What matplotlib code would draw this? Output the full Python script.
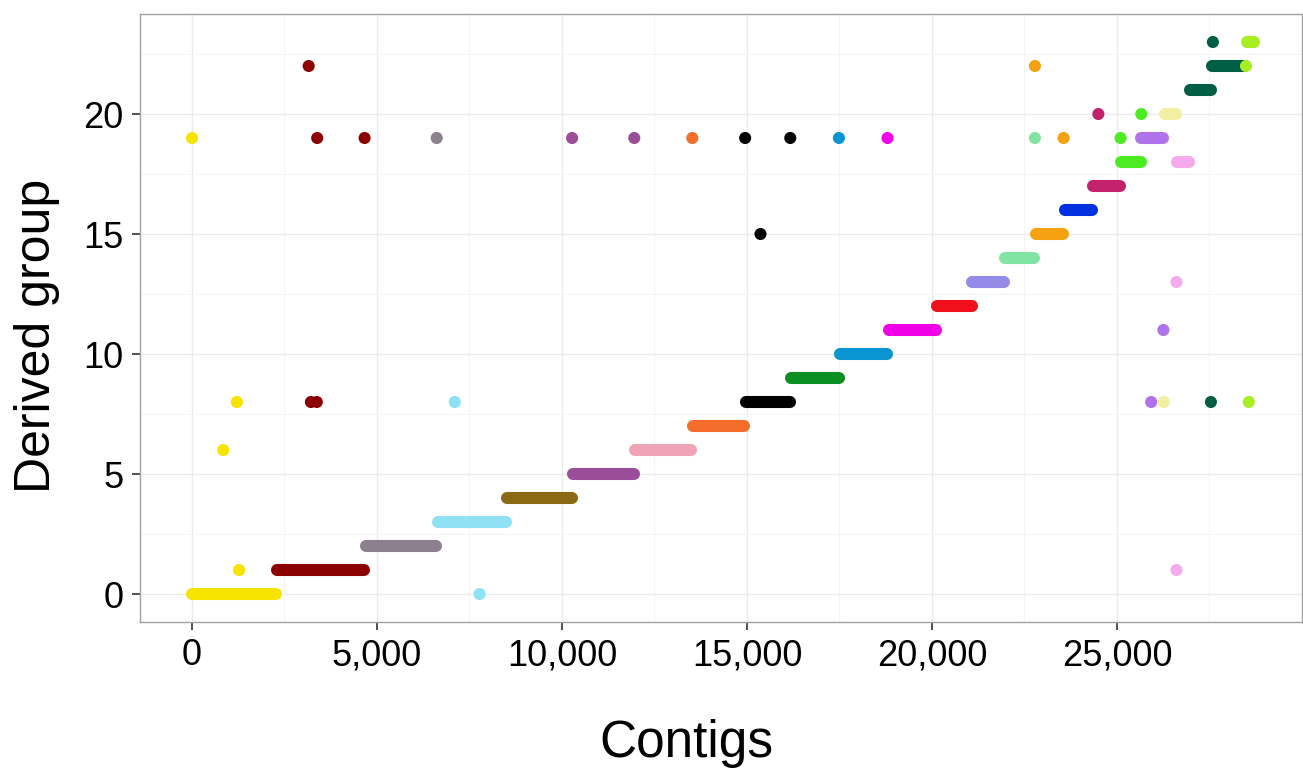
import matplotlib
matplotlib.use("Agg")
import matplotlib.pyplot as plt
from matplotlib.ticker import FuncFormatter, MultipleLocator

plt.rcParams['font.family'] = ['Liberation Sans', 'DejaVu Sans']

# Colour of each original contig group
group_colors = [
    "#F7E300",  # 0 yellow
    "#8B0000",  # 1 dark red
    "#8C7F8E",  # 2 grey-mauve
    "#8EE2F4",  # 3 light blue
    "#8B6914",  # 4 brown
    "#9C4D9A",  # 5 purple
    "#F0A3B4",  # 6 pink
    "#F46D2A",  # 7 orange
    "#000000",  # 8 black
    "#0A9020",  # 9 green
    "#0A94D2",  # 10 blue
    "#F000E6",  # 11 magenta
    "#F0101C",  # 12 red
    "#958AE8",  # 13 lavender
    "#82E4A2",  # 14 mint
    "#F5A212",  # 15 amber
    "#0030E0",  # 16 royal blue
    "#C2216C",  # 17 crimson
    "#4CEB22",  # 18 bright green
    "#B072EA",  # 19 medium purple
    "#F2EEA2",  # 20 pale yellow
    "#F5AAEC",  # 21 light pink
    "#005E44",  # 22 dark green
    "#A8EE22",  # 23 lime
]

# Runs of consecutive contigs: first contig, last contig, derived group, colour group
run_start = [0, 2300, 4690, 6645, 8515, 10300, 11965, 13535, 14968, 16185,
             17505, 18825, 20130, 21092, 21970, 22800, 23585, 24360, 25115,
             26635, 25662, 26284, 26976, 27565, 28527]
run_end = [2260, 4650, 6600, 8480, 10260, 11940, 13500, 14920, 16155, 17478,
           18792, 20105, 21068, 21946, 22762, 23550, 24335, 25080, 25638,
           26950, 26250, 26590, 27530, 28460, 28690]
run_group = [0, 1, 2, 3, 4, 5, 6, 7, 8, 9, 10, 11, 12, 13, 14, 15, 16, 17, 18,
             18, 19, 20, 21, 22, 23]
run_color = [0, 1, 2, 3, 4, 5, 6, 7, 8, 9, 10, 11, 12, 13, 14, 15, 16, 17, 18,
             21, 19, 20, 22, 22, 23]

# Single contigs assigned away from their run
single_x = [0, 3384, 4665, 6614, 10273, 11954, 13522, 14951, 16170, 17484,
            18797, 22781, 23557, 25097, 3154, 22781, 24497, 25657, 15365,
            26608, 26254, 1213, 3214, 3373, 7103, 25924, 26265, 27538, 28562,
            843, 1273, 26608, 7773, 27591, 28486]
single_group = [19, 19, 19, 19, 19, 19, 19, 19, 19, 19,
                19, 19, 19, 19, 22, 22, 20, 20, 15,
                13, 11, 8, 8, 8, 8, 8, 8, 8, 8,
                6, 1, 1, 0, 23, 22]
single_color = [0, 1, 1, 2, 5, 5, 7, 8, 8, 10,
                11, 14, 15, 18, 1, 15, 17, 18, 8,
                21, 19, 0, 1, 1, 3, 19, 20, 22, 23,
                0, 0, 21, 3, 22, 23]

x_ticks = [0, 5000, 10000, 15000, 20000, 25000]
y_ticks = [0, 5, 10, 15, 20]

W, H = 1303, 769
fig = plt.figure(figsize=(W / 100, H / 100), dpi=100)
ax = fig.add_axes([140 / W, 1 - 621.6 / H, 1162 / W, 607.2 / H])

dot_pt = 8.7
for s, e, g, c in zip(run_start, run_end, run_group, run_color):
    ax.plot([s, e], [g, g], color=group_colors[c], lw=dot_pt,
            solid_capstyle='round', zorder=3)

ax.scatter(single_x, single_group, s=dot_pt ** 2,
           c=[group_colors[c] for c in single_color], linewidths=0, zorder=4)

ax.set_xlim(-1405, 30000)
ax.set_ylim(-1.15, 24.15)

ax.set_xticks(x_ticks)
ax.set_yticks(y_ticks)
ax.xaxis.set_minor_locator(MultipleLocator(2500))
ax.yaxis.set_minor_locator(MultipleLocator(2.5))
ax.xaxis.set_major_formatter(FuncFormatter(lambda v, p: f"{int(v):,}"))
ax.yaxis.set_major_formatter(FuncFormatter(lambda v, p: f"{int(v)}"))

ax.grid(which='major', color='#EBEBEB', lw=1.0, zorder=0)
ax.grid(which='minor', color='#F5F5F5', lw=0.8, zorder=0)
ax.set_axisbelow(True)

for sp in ax.spines.values():
    sp.set_color('#A0A0A0')
    sp.set_linewidth(1.0)

ax.tick_params(which='major', length=5.5, width=1.2, color='#333333',
               labelsize=26, labelcolor='black', pad=6.5)
ax.tick_params(which='minor', length=0)

# Axis titles
fig.text(686 / W, 1 - 756.7 / H, "Contigs", fontsize=37,
         ha='center', va='baseline')
fig.text(37.5 / W, 1 - 336 / H, "Derived group", fontsize=36,
         rotation=90, ha='center', va='center')

fig.savefig("out.png", dpi=100)
